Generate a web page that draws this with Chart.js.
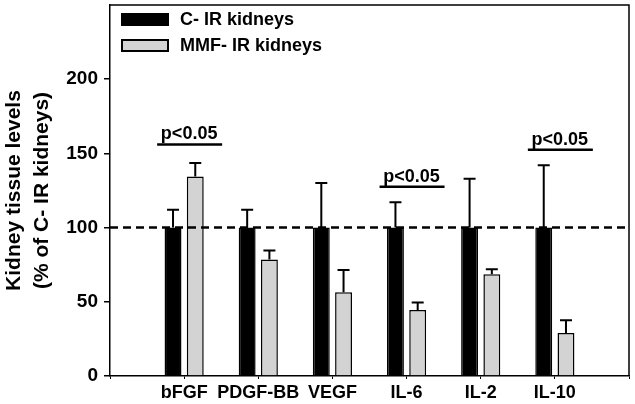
<!DOCTYPE html>
<html>
<head>
<meta charset="utf-8">
<script src="https://cdn.jsdelivr.net/npm/chart.js@4/dist/chart.umd.min.js"></script>
<style>
  html, body { margin: 0; padding: 0; background: #fff; }
  #wrap { width: 635px; height: 404px; }
</style>
</head>
<body>
<div id="wrap"><canvas id="kidneyChart"></canvas></div>
<script>
// categories (empty ends keep the gap left and right of the bars)
var categories = ['', 'bFGF', 'PDGF-BB', 'VEGF', 'IL-6', 'IL-2', 'IL-10', ''];

var ctrlValues = [null, 100, 100, 100, 100, 100, 100, null];
var ctrlErr    = [null, 12, 12, 30, 17, 33, 42, null];
var mmfValues  = [null, 134.5, 78.5, 56.5, 44.5, 68.5, 29, null];
var mmfErr     = [null, 9, 6, 15, 5, 3.5, 8.5, null];

var refLine = 100;
var yTicks = [0, 50, 100, 150, 200];

var sigCats   = ['bFGF', 'IL-6', 'IL-10'];
var sigLevels = [156, 127.5, 152.5];
var sigText   = 'p<0.05';

var FONT = '"Liberation Sans", Arial, Helvetica, sans-serif';

var extrasPlugin = {
    id: 'extras',
    afterDatasetsDraw: function(chart) {
        var ctx = chart.ctx;
        var x = chart.scales.x;
        var y = chart.scales.y;
        var area = chart.chartArea;
        var errs = [ctrlErr, mmfErr];

        ctx.save();
        ctx.strokeStyle = '#000';

        // error bars
        ctx.lineWidth = 2;
        chart.data.datasets.forEach(function(ds, i) {
            var meta = chart.getDatasetMeta(i);
            meta.data.forEach(function(el, j) {
                var v = ds.data[j];
                if (v == null) return;
                var top = y.getPixelForValue(v + errs[i][j]);
                ctx.beginPath();
                ctx.moveTo(el.x, el.y);
                ctx.lineTo(el.x, top);
                ctx.moveTo(el.x - 6, top);
                ctx.lineTo(el.x + 6, top);
                ctx.stroke();
            });
        });

        // dashed reference line
        var ry = y.getPixelForValue(refLine);
        ctx.lineWidth = 2.5;
        ctx.setLineDash([8, 5]);
        ctx.beginPath();
        ctx.moveTo(area.left, ry);
        ctx.lineTo(area.right, ry);
        ctx.stroke();
        ctx.setLineDash([]);

        // significance marks
        ctx.font = 'bold 18px ' + FONT;
        ctx.fillStyle = '#000';
        ctx.textAlign = 'center';
        ctx.textBaseline = 'alphabetic';
        sigCats.forEach(function(c, k) {
            var cx = x.getPixelForValue(categories.indexOf(c)) + 5;
            var sy = y.getPixelForValue(sigLevels[k]);
            ctx.lineWidth = 2.5;
            ctx.beginPath();
            ctx.moveTo(cx - 32, sy);
            ctx.lineTo(cx + 33, sy);
            ctx.stroke();
            ctx.fillText(sigText, cx, sy - 5);
        });

        // frame top and right
        ctx.lineWidth = 1.5;
        ctx.beginPath();
        ctx.moveTo(area.left, area.top);
        ctx.lineTo(area.right, area.top);
        ctx.lineTo(area.right, area.bottom);
        ctx.stroke();

        // legend
        ctx.textAlign = 'left';
        ctx.textBaseline = 'middle';
        chart.data.datasets.forEach(function(ds, i) {
            var by = 13 + i * 26;
            ctx.fillStyle = ds.backgroundColor;
            ctx.fillRect(121, by, 48, 13);
            ctx.lineWidth = 2;
            ctx.strokeRect(122, by + 1, 46, 11);
            ctx.fillStyle = '#000';
            ctx.fillText(ds.label, 180, by + 7);
        });

        ctx.restore();
    }
};

new Chart(document.getElementById('kidneyChart'), {
    type: 'bar',
    data: {
        labels: categories,
        datasets: [{
            label: 'C- IR kidneys',
            data: ctrlValues,
            backgroundColor: '#000000',
            borderColor: '#000000',
            borderWidth: 1.5
        }, {
            label: 'MMF- IR kidneys',
            data: mmfValues,
            backgroundColor: '#d3d3d3',
            borderColor: '#000000',
            borderWidth: 1.5
        }]
    },
    options: {
        responsive: true,
        maintainAspectRatio: false,
        animation: false,
        categoryPercentage: 0.6,
        barPercentage: 0.76,
        layout: { padding: { left: 0, top: 5, right: 6, bottom: 0 } },
        plugins: {
            legend: { display: false },
            tooltip: { enabled: false }
        },
        scales: {
            x: {
                offset: false,
                grid: { display: true, drawOnChartArea: false, offset: false, tickLength: 3, color: '#000' },
                border: { color: '#000', width: 1.5 },
                ticks: {
                    autoSkip: false, maxRotation: 0, padding: 3, color: '#000',
                    font: { family: FONT, size: 18, weight: 'bold' }
                },
                afterFit: function(s) {
                    s.height = 28;
                    s.paddingLeft = 0;
                    s.paddingRight = 0;
                }
            },
            y: {
                min: 0,
                max: 250,
                grid: { display: true, drawOnChartArea: false, tickLength: 6, color: '#000', lineWidth: 1.5 },
                border: { color: '#000', width: 1.5 },
                ticks: {
                    stepSize: 50, padding: 6, color: '#000',
                    font: { family: FONT, size: 19, weight: 'bold' }
                },
                afterBuildTicks: function(s) {
                    s.ticks = yTicks.map(function(v) { return { value: v }; });
                },
                title: {
                    display: true,
                    text: ['Kidney tissue levels', '(% of C- IR kidneys)'],
                    color: '#000',
                    padding: 0,
                    font: { family: FONT, size: 21, weight: 'bold', lineHeight: 1.35 }
                },
                afterFit: function(s) {
                    s.width = 110;
                    s.paddingTop = 0;
                    s.paddingBottom = 0;
                }
            }
        }
    },
    plugins: [extrasPlugin]
});
</script>
</body>
</html>
